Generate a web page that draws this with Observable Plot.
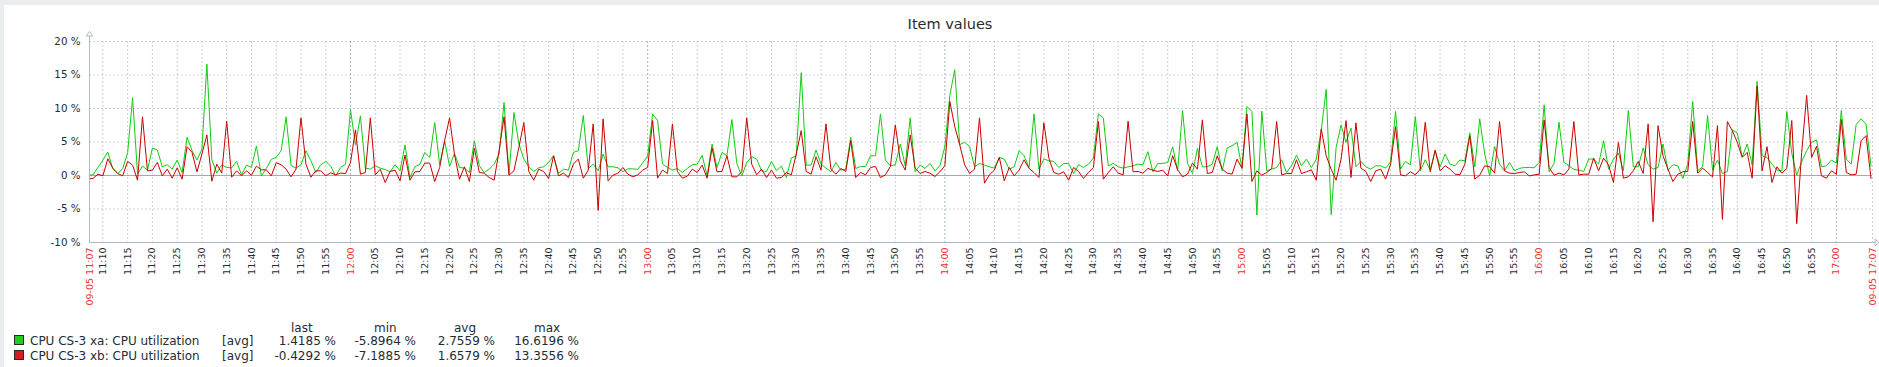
<!DOCTYPE html>
<html><head><meta charset="utf-8">
<script src="https://cdn.jsdelivr.net/npm/d3@7"></script>
<script src="https://cdn.jsdelivr.net/npm/@observablehq/plot@0.6"></script>
<style>
html,body{margin:0;padding:0;}
body{width:1879px;height:367px;background:#ebeef0;position:relative;overflow:hidden;font-family:"DejaVu Sans",sans-serif;color:#1f2c33;}
#panel{position:absolute;left:4px;top:5px;right:0;bottom:0;background:#fff;}
#title{position:absolute;left:850px;width:200px;top:16px;text-align:center;font-size:14.5px;line-height:17px;}
#chart{position:absolute;left:0;top:0;}
.leg{position:absolute;font-size:12px;line-height:14px;white-space:pre;}
.r{text-align:right;}
.sq{position:absolute;width:8px;height:8px;border:1px solid #2a2a2a;}
</style>
</head><body>
<div id="panel"></div>
<div id="title"></div>
<div id="chart"></div>
<div id="legend"></div>
<script>
// ---- data ----
const title = "Item values";
const startMinute = "11:07";           // first sample (one per minute)
const edgeLabels = ["09-05 11:07", "09-05 17:07"];
const seriesNames = ["CPU CS-3 xa: CPU utilization", "CPU CS-3 xb: CPU utilization"];
const seriesColors = ["#11cc11", "#cc0000"];
const legendColors = ["#1ecf1e", "#cf2020"];
const legendHeaders = ["last", "min", "avg", "max"];
const legendXa = ["1.4185 %", "-5.8964 %", "2.7559 %", "16.6196 %"];
const legendXb = ["-0.4292 %", "-7.1885 %", "1.6579 %", "13.3556 %"];
const yTicks = [-10, -5, 0, 5, 10, 15, 20];
const tickLabels = ["11:10","11:15","11:20","11:25","11:30","11:35","11:40","11:45","11:50","11:55",
"12:00","12:05","12:10","12:15","12:20","12:25","12:30","12:35","12:40","12:45","12:50","12:55",
"13:00","13:05","13:10","13:15","13:20","13:25","13:30","13:35","13:40","13:45","13:50","13:55",
"14:00","14:05","14:10","14:15","14:20","14:25","14:30","14:35","14:40","14:45","14:50","14:55",
"15:00","15:05","15:10","15:15","15:20","15:25","15:30","15:35","15:40","15:45","15:50","15:55",
"16:00","16:05","16:10","16:15","16:20","16:25","16:30","16:35","16:40","16:45","16:50","16:55",
"17:00"];

const xa = [
0.05,0.1,1.2,2.3,3.5,1.0,0.3,1.0,3.4,11.6,
0.2,1.4,0.8,4.1,3.8,1.3,1.6,0.95,2.3,0.45,
5.7,3.7,2.3,3.9,16.62,2.35,0.35,1.6,1.2,1.15,
2.1,0.1,1.55,1.2,4.4,-0.05,1.05,2.4,2.7,3.7,
8.75,1.45,1.1,1.6,3.7,2.2,0.45,1.6,2.1,1.4,
-0.05,1.2,1.7,9.8,4.55,8.9,1.1,0.95,1.45,1.1,
0.9,0.55,1.6,0.7,4.55,-0.3,1.3,1.65,3.45,2.7,
7.9,1.6,5.2,1.35,3.3,1.2,1.1,0.45,5.2,1.45,
0.45,0.95,1.7,3.2,10.9,0.2,9.4,4.7,2.45,1.3,
0.6,1.15,1.3,1.95,2.95,0.3,0.95,0.8,3.45,3.7,
8.95,1.0,1.7,0.7,3.2,1.3,1.3,1.15,0.55,1.0,
1.0,0.9,1.9,2.9,9.2,8.2,1.7,1.2,0.8,1.05,
0.45,1.05,1.6,1.7,3.0,-0.05,4.7,1.2,3.45,2.95,
8.35,1.8,-0.1,1.95,2.8,2.45,0.7,0.6,2.1,0.7,
1.4,-0.3,2.6,2.95,15.35,1.55,1.55,3.8,1.7,1.1,
0.55,1.95,0.8,0.95,5.7,1.05,1.35,1.35,2.95,2.95,
9.2,2.3,1.45,1.6,4.7,1.45,8.6,0.55,1.55,1.05,
1.8,0.7,1.45,4.3,11.95,15.8,4.6,4.95,4.3,1.3,
1.8,1.55,1.3,1.1,2.7,2.45,0.95,1.3,3.7,2.95,
1.2,9.2,0.95,2.45,2.2,2.1,1.2,1.8,1.8,0.3,
1.6,1.2,1.7,2.6,9.2,8.6,1.45,1.8,1.3,1.1,
1.3,1.45,1.7,1.6,3.55,0.55,1.8,1.8,1.95,4.3,
0.7,9.7,1.8,0.3,4.05,1.3,1.3,1.7,4.3,0.7,
4.1,4.45,4.95,1.1,10.3,9.55,-5.8964,9.6,0.7,0.95,
1.2,2.35,0.45,1.45,3.05,1.45,2.45,1.2,2.45,6.8,
12.85,-5.85,4.2,7.55,4.95,7.1,1.3,2.1,1.3,0.95,
1.45,1.45,1.1,2.05,9.55,0.95,2.1,1.6,8.8,0.7,
2.35,0.8,3.7,1.3,3.2,1.7,1.45,2.3,2.2,6.35,
1.3,8.45,3.2,-0.05,4.35,1.7,0.7,1.95,0.7,1.05,
1.2,1.2,1.15,1.95,10.55,0.55,1.8,7.95,1.95,1.45,
0.9,0.8,0.6,2.45,2.45,1.7,5.2,0.95,2.45,3.35,
0.7,9.7,1.3,1.3,4.1,1.6,0.95,1.2,4.7,0.8,
1.6,1.45,-0.45,1.7,11.05,0.7,1.3,8.95,0.8,2.3,
0.3,0.6,6.8,6.35,2.8,4.7,1.6,14.05,2.95,2.7,
1.7,0.8,0.7,9.55,3.3,0.05,2.05,3.7,4.95,5.3,
1.3,1.45,2.3,1.85,9.7,2.45,1.7,7.6,8.45,7.7,
1.4185];

const xb = [
-0.5,-0.45,0.2,-0.05,2.5,1.1,0.3,-0.05,2.1,1.55,
-0.7,8.75,0.7,0.8,1.95,-0.05,0.95,-0.4,1.15,-0.55,
4.3,3.45,0.55,3.2,6.05,-0.85,1.7,0.35,8.1,-0.25,
0.7,-0.05,0.7,0.05,1.4,0.85,0.85,-0.05,1.9,1.6,
0.95,-0.2,0.95,8.6,1.7,-0.25,0.7,0.7,-0.05,0.4,
0.1,0.35,0.3,1.95,6.8,0.2,0.45,8.6,0.1,0.95,
-1.05,0.6,0.8,-0.8,3.05,-0.7,0.55,0.6,1.85,1.85,
-0.9,1.2,5.2,8.6,3.1,-0.55,1.3,-0.9,4.1,0.45,
0.35,-0.3,-0.7,3.7,8.75,0.05,0.7,4.2,7.9,0.6,
-0.7,0.95,0.6,-0.45,2.95,-0.05,0.35,-0.3,1.7,2.45,
-0.4,0.8,7.7,-5.2,8.45,-0.8,0.05,0.35,1.2,0.2,
-0.2,0.1,0.8,1.2,8.2,-0.4,0.8,0.3,7.7,0.6,
-0.4,-0.1,0.95,0.45,1.55,-0.4,4.1,0.55,0.6,2.95,
-0.2,-0.2,0.55,8.6,1.7,0.1,0.95,-0.3,0.8,-0.4,
-0.3,0.45,0.1,3.2,6.7,0.6,0.2,2.8,0.8,7.7,
0.95,0.2,1.05,0.6,5.2,-0.3,0.45,0.1,1.2,1.35,
-0.3,0.1,1.35,7.55,2.2,0.8,6.05,1.1,0.3,0.6,
0.35,-0.15,0.55,1.45,11.05,7.3,4.6,1.6,0.3,0.95,
8.6,-1.15,0.1,0.8,2.7,-0.8,1.2,-0.05,0.8,2.35,
1.05,0.45,-0.3,7.85,2.6,0.45,0.2,0.55,-0.7,1.2,
0.6,-0.45,0.45,1.2,8.05,-0.55,0.45,1.3,0.35,0.1,
8.1,0.55,0.6,0.35,1.05,0.8,0.6,0.8,-0.05,2.95,
0.85,-0.2,0.2,1.85,0.95,8.3,0.3,0.45,2.95,0.95,
0.35,0.2,2.45,1.05,9.2,-0.9,0.7,0.05,0.45,1.05,
8.05,0.1,0.3,0.3,2.35,0.3,0.55,0.85,-0.7,6.95,
2.95,0.95,-0.7,2.45,8.2,-0.3,7.85,1.1,0.6,-0.9,
0.7,0.95,-0.55,1.7,7.3,0.1,-0.05,0.55,0.1,0.95,
7.95,0.55,3.8,0.7,1.45,0.95,0.2,0.1,1.7,5.95,
-0.55,0.05,1.45,1.3,0.35,8.05,0.7,0.35,0.3,0.45,
0.55,-0.05,0.1,0.2,8.3,1.2,0.05,0.35,0.1,0.95,
8.05,0.1,0.2,0.2,2.6,0.7,2.6,1.6,-1.05,4.95,
-0.4,-0.2,0.7,2.1,0.3,7.7,-6.9,7.45,2.95,0.95,
-0.9,0.2,0.55,0.6,8.05,0.35,1.1,0.45,-0.2,7.45,
-6.55,8.05,6.7,4.95,2.7,3.45,-0.4,13.3556,0.7,4.3,
-1.05,1.3,0.35,1.05,8.2,-7.1885,3.45,11.95,2.7,4.35,
-0.05,-0.4,0.7,0.2,8.35,0.45,0.1,0.2,5.2,5.95,
-0.4292];

// ---- helpers ----
const toMin = s => { const [h, m] = s.split(":").map(Number); return h * 60 + m; };
const t0 = toMin(startMinute);
const offset = 0.3;                    // window starts 18 s after the first sample
const domainX = [offset, offset + 360];
const rowsA = xa.map((v, i) => ({t: i, v}));
const rowsB = xb.map((v, i) => ({t: i, v}));
const ticks = tickLabels.map(l => ({t: toMin(l) - t0, label: l, hour: l.endsWith(":00")}));
const edges = [{t: domainX[0], label: edgeLabels[0]}, {t: domainX[1], label: edgeLabels[1]}];

document.getElementById("title").textContent = title;

const grid = "#c9d2d7", hourGrid = "#a6b3bb", axisCol = "#acbac2", txt = "#1f2c33", red = "#ee3333";

const plot = Plot.plot({
  width: 1879, height: 320,
  marginLeft: 89, marginRight: 7, marginTop: 41, marginBottom: 78,
  style: {background: "transparent", fontFamily: "DejaVu Sans, sans-serif", color: txt, overflow: "visible"},
  x: {type: "linear", domain: domainX, axis: null},
  y: {domain: [-10, 20], axis: null},
  marks: [
    Plot.ruleY(yTicks.filter(d => d !== 0 && d !== -10), {stroke: grid, strokeDasharray: "2,2"}),
    Plot.ruleX(ticks.filter(d => !d.hour), {x: "t", stroke: grid, strokeDasharray: "2,2"}),
    Plot.ruleX(ticks.filter(d => d.hour), {x: "t", stroke: hourGrid, strokeDasharray: "2,2"}),
    Plot.ruleX([domainX[1]], {stroke: grid, strokeDasharray: "2,2"}),
    Plot.ruleY([0], {stroke: "#a9a9a9"}),
    Plot.line(rowsA, {x: "t", y: "v", stroke: seriesColors[0], strokeWidth: 1, clip: true}),
    Plot.line(rowsB, {x: "t", y: "v", stroke: seriesColors[1], strokeWidth: 1, clip: true}),
    Plot.ruleY([-10], {stroke: axisCol}),
    Plot.axisY(yTicks, {label: null, tickSize: 0, tickPadding: 9, tickFormat: d => d + " %", fontSize: 10.3, fill: txt}),
    Plot.text(ticks, {x: "t", text: "label", frameAnchor: "bottom", rotate: -90, textAnchor: "end",
      lineAnchor: "middle", dy: 5, fontSize: 9.5, fill: d => d.hour ? red : txt}),
    Plot.text(edges, {x: "t", text: "label", frameAnchor: "bottom", rotate: -90, textAnchor: "end",
      lineAnchor: "middle", dy: 5, fontSize: 9.5, fill: red})
  ]
});
document.getElementById("chart").appendChild(plot);

// axis lines with open arrow heads
const svg = d3.select(plot);
const sx = plot.scale("x"), sy = plot.scale("y");
const xL = sx.apply(domainX[0]) + 0.5, xR = sx.apply(domainX[1]);
const yT = sy.apply(20), yB = sy.apply(-10) + 0.5;
svg.append("line").attr("x1", xL).attr("x2", xL).attr("y1", yT - 5).attr("y2", yB).attr("stroke", axisCol);
svg.append("line").attr("x1", xL).attr("x2", xR + 3).attr("y1", yB).attr("y2", yB).attr("stroke", axisCol);
svg.append("path").attr("d", `M${xL},${yT - 9.5}L${xL + 3.3},${yT - 5}L${xL - 3.3},${yT - 5}Z`)
  .attr("fill", "#fff").attr("stroke", axisCol);
svg.append("path").attr("d", `M${xR + 7},${yB}L${xR + 3},${yB - 3.3}L${xR + 3},${yB + 3.3}Z`)
  .attr("fill", "#fff").attr("stroke", axisCol);

// legend
const leg = document.getElementById("legend");
function add(text, left, top, cls, width) {
  const d = document.createElement("div");
  d.className = "leg" + (cls ? " " + cls : "");
  d.textContent = text;
  d.style.left = left + "px"; d.style.top = top + "px";
  if (width) d.style.width = width + "px";
  leg.appendChild(d);
}
const headerLeft = [291, 374, 454, 534];
const valueRight = [336, 416, 495, 579];
legendHeaders.forEach((h, i) => add(h, headerLeft[i], 320.5));
[[legendXa, 333.8], [legendXb, 348.8]].forEach(([vals, top], k) => {
  const sq = document.createElement("div");
  sq.className = "sq"; sq.style.left = "14px"; sq.style.top = (top + 1.5) + "px";
  sq.style.background = legendColors[k];
  leg.appendChild(sq);
  add(seriesNames[k], 30, top);
  add("[avg]", 222, top);
  vals.forEach((v, i) => add(v, valueRight[i] - 80, top, "r", 80));
});
</script>
</body></html>
